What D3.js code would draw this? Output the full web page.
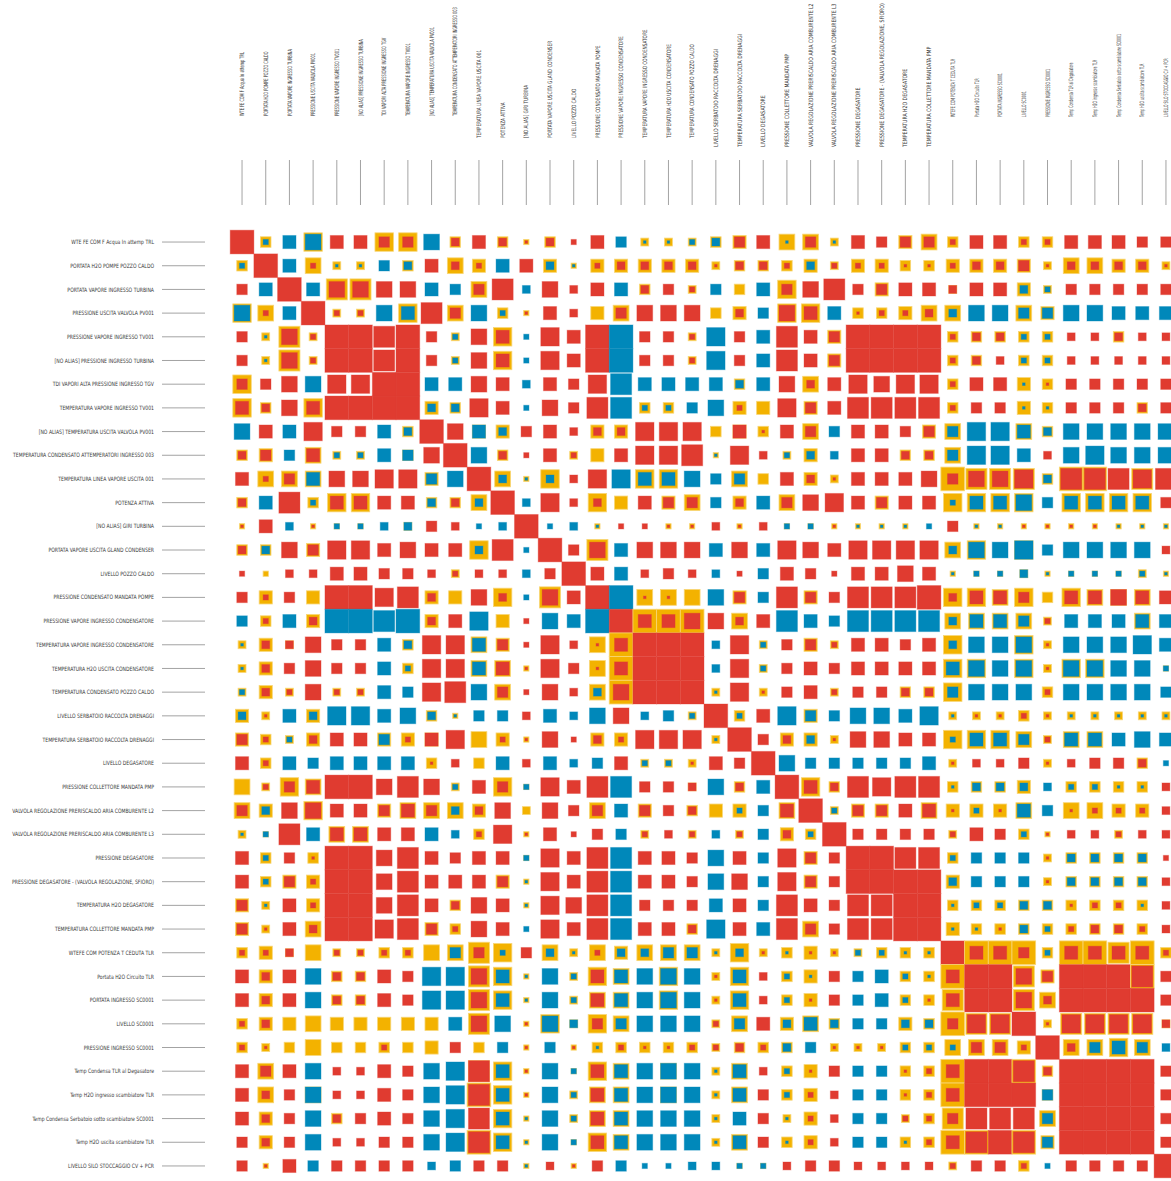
<!DOCTYPE html>
<html>
<head>
<meta charset="utf-8">
<script src="https://cdn.jsdelivr.net/npm/d3@7"></script>
<style>
html, body { margin: 0; padding: 0; background: #fff; overflow: hidden; }
text { font-family: "Liberation Sans Narrow", "DejaVu Sans Condensed", sans-serif; fill: #3a3a3a; }
</style>
</head>
<body>
<div id="chart"></div>
<script>
const width = 1171;
const height = 1181;

const labels = [
    "WTE FE COM F Acqua In attemp TRL",
    "PORTATA H2O POMPE POZZO CALDO",
    "PORTATA VAPORE INGRESSO TURBINA",
    "PRESSIONE USCITA VALVOLA PV001",
    "PRESSIONE VAPORE INGRESSO TV001",
    "[NO ALIAS] PRESSIONE INGRESSO TURBINA",
    "TDI VAPORI ALTA PRESSIONE INGRESSO TGV",
    "TEMPERATURA VAPORE INGRESSO TV001",
    "[NO ALIAS] TEMPERATURA USCITA VALVOLA PV001",
    "TEMPERATURA CONDENSATO ATTEMPERATORI INGRESSO 003",
    "TEMPERATURA LINEA VAPORE USCITA 001",
    "POTENZA ATTIVA",
    "[NO ALIAS] GIRI TURBINA",
    "PORTATA VAPORE USCITA GLAND CONDENSER",
    "LIVELLO POZZO CALDO",
    "PRESSIONE CONDENSATO MANDATA POMPE",
    "PRESSIONE VAPORE INGRESSO CONDENSATORE",
    "TEMPERATURA VAPORE INGRESSO CONDENSATORE",
    "TEMPERATURA H2O USCITA CONDENSATORE",
    "TEMPERATURA CONDENSATO POZZO CALDO",
    "LIVELLO SERBATOIO RACCOLTA DRENAGGI",
    "TEMPERATURA SERBATOIO RACCOLTA DRENAGGI",
    "LIVELLO DEGASATORE",
    "PRESSIONE COLLETTORE MANDATA PMP",
    "VALVOLA REGOLAZIONE PRERISCALDO ARIA COMBURENTE L2",
    "VALVOLA REGOLAZIONE PRERISCALDO ARIA COMBURENTE L3",
    "PRESSIONE DEGASATORE",
    "PRESSIONE DEGASATORE - (VALVOLA REGOLAZIONE, SFIORO)",
    "TEMPERATURA H2O DEGASATORE",
    "TEMPERATURA COLLETTORE MANDATA PMP",
    "WTEFE COM POTENZA T CEDUTA TLR",
    "Portata H2O Circuito TLR",
    "PORTATA INGRESSO SC0001",
    "LIVELLO SC0001",
    "PRESSIONE INGRESSO SC0001",
    "Temp Condensa TLR al Degasatore",
    "Temp H2O ingresso scambiatore TLR",
    "Temp Condensa Serbatoio sotto scambiatore SC0001",
    "Temp H2O uscita scambiatore TLR",
    "LIVELLO SILO STOCCAGGIO CV + PCR"
];

// one string per row, one token per column:
// sign (r = positive / red, b = negative / blue), inner size 0-9, yellow halo size 0-9 (0 = none)
const matrix = [
    "r90 b24 b50 b67 r50 r50 r47 r47 b60 r34 r50 r34 r12 r34 r20 r50 b40 b13 b13 b23 b34 r45 r50 b16 r46 b13 r50 r40 r45 r46 r24 r50 r50 r24 r24 r50 r50 r50 r40 r40",
    "b24 r90 b50 r26 b13 b13 b40 b34 r50 r36 r25 b50 r50 b35 b12 r25 r35 r35 r35 r35 r13 r34 r34 r24 b35 r23 r25 r25 r14 r14 r25 r35 r35 r45 r13 r36 r36 r35 r35 r13",
    "r40 b50 r90 b50 r68 r68 r60 r60 b50 b40 r46 r80 b30 r60 r30 r50 b50 r34 r40 r23 b40 r04 b50 r47 r60 r80 r40 r45 r50 r50 r33 r50 r50 b35 b23 r40 r40 r40 r40 r40",
    "b67 r26 b50 r90 r23 r23 b60 b57 r80 r46 b60 b24 r12 r50 r30 r05 r46 r60 r60 r60 r04 r35 b40 r67 r57 b50 r14 r24 r25 r36 b36 b60 b60 b46 b45 b60 b60 b50 b50 b50",
    "r40 b13 r68 r23 r90 r90 r80 r90 r40 b23 r60 r57 b20 r70 r50 r90 b90 r40 r40 r23 b70 r40 b50 r80 r50 r45 r90 r90 r90 r90 r24 r34 r34 b24 b24 r30 r30 r34 r30 r30",
    "r40 b13 r68 r23 r90 r90 r80 r90 r40 b23 r60 r57 b20 r70 r50 r90 b90 r40 r40 r23 b70 r40 b50 r80 r50 r45 r90 r90 r90 r90 r24 r34 r30 b24 b24 r30 r30 r30 r30 r30",
    "r47 r40 r60 b60 r70 r70 r90 r90 b50 b50 r60 r50 b30 r50 r40 r70 b80 b50 b50 b50 b50 b34 b50 r60 r36 r50 r70 r60 r70 r70 r24 r50 r50 b15 r14 r40 r40 r40 r40 r40",
    "r57 r34 r60 r57 r90 r90 r90 r90 b35 b34 r70 r50 b20 r60 r40 r80 b80 b24 b24 b40 b60 r25 r05 r70 r45 r50 r80 r80 r80 r80 r24 r40 r40 b15 b14 r40 r40 r40 r34 r40",
    "b60 r50 b50 r70 r40 r40 b50 b34 r90 r60 b55 b35 r40 r50 r30 r35 r35 r70 r70 r70 r04 r55 r14 r50 r46 b40 r50 r50 r40 r45 b46 b70 b70 b56 b34 b60 b60 b60 b60 b60",
    "r34 r45 b40 r56 b23 b23 b50 b44 r60 r90 b60 r34 r20 r50 r23 r05 r50 r70 r70 r80 b12 r70 r30 b23 b35 b30 r50 r50 r34 r34 b46 b70 b70 b50 r30 b60 b70 b60 b60 b60",
    "r50 r26 r46 b56 r60 r60 r70 r70 b45 b60 r90 b36 b12 b37 r30 r70 b70 b57 b57 b60 b40 b46 r04 r50 r35 r13 r50 r50 r50 r60 r49 r68 r68 r78 b34 r89 r89 r80 r78 r80",
    "r34 b50 r80 b24 r57 r57 r50 r50 b34 r34 b36 r90 b30 r70 r30 r37 r05 r50 r45 r46 b40 r35 b50 r46 r60 r70 r50 r45 r50 r50 b27 b57 b57 b67 b40 b57 b57 b57 b57 r40",
    "r12 r50 b30 r12 b22 b22 b30 b33 r40 r30 b20 b30 r90 b20 b30 b12 r20 r20 r12 r12 r30 r12 r30 b22 b22 r12 b12 b12 b12 b20 r40 b12 b12 r12 r12 r12 r12 b12 b12 b12",
    "r34 b34 r60 r45 r70 r70 r50 r60 r50 r50 b37 r80 b20 r90 r40 r68 b50 r60 r60 r60 b50 r60 b50 r70 r60 r50 r70 r70 r70 r70 b36 b67 b60 b77 b40 b60 b60 b60 b60 r30",
    "r20 r02 r30 r30 r50 r50 r40 r40 r30 r23 r30 r30 b30 r40 r90 r50 b50 r30 r40 r30 b30 r20 b40 r50 r40 r20 r50 r50 r60 r50 b12 b22 b22 b33 b12 b22 b22 b22 b23 b12",
    "r40 r25 r40 r05 r90 r90 r70 r80 r35 r05 r60 r37 b20 r68 r50 r90 b90 r16 r16 r06 b60 r45 b40 r80 r45 r40 r80 r80 r80 r90 r37 r57 r56 r47 r04 r57 r56 r66 r56 r50",
    "b40 r24 b50 r35 b90 b90 b80 b90 r35 r50 b70 r05 r20 b60 b50 b90 r90 r59 r59 r69 r60 r36 r50 b80 b50 b40 b80 b80 b80 b80 b36 b56 b56 b46 r23 b50 b50 b50 b56 b50",
    "b13 r35 r33 r60 r40 r40 b50 b34 r70 r70 b56 r45 r20 r70 r30 r16 r59 r90 r90 r90 b30 r70 b23 r40 r45 r23 r50 r50 r40 r50 b37 b60 b60 b67 r13 b60 b60 b60 b70 b50",
    "b13 r35 r40 r60 r40 r40 b50 b24 r70 r70 b56 r56 r12 r70 r40 r16 r59 r90 r90 r90 b30 r70 b23 r40 r50 r40 r50 r50 r50 r50 b57 b67 b60 b67 r13 b67 b67 b60 b60 b22",
    "b23 r35 r23 r60 r23 r23 b50 b40 r70 r80 b60 r46 r20 r60 r30 b36 r69 r90 r90 r90 b13 r70 r13 r40 r50 r23 r40 r40 r34 r34 b47 b60 b60 b60 r24 b60 b60 b60 b60 b40",
    "b35 r13 b50 b35 b70 b70 b50 b60 b34 b12 b40 b40 r30 b50 b30 b60 r60 b30 b40 b23 r90 b24 r50 b70 b45 b40 b60 b60 b50 b70 b13 r13 r13 r24 r13 b13 b13 b13 b13 b13",
    "r45 r24 b23 r35 r50 r50 b45 r25 r55 r70 r06 r25 r12 r60 r20 r35 r25 r70 r70 r70 b13 r90 r40 r35 b35 r13 r60 r60 r50 r50 b27 b57 b57 b46 r23 b56 b56 b50 b60 b50",
    "r50 r24 b50 b40 b50 b50 b50 b50 r14 r30 r04 b50 r30 b50 b30 b40 r50 b23 b23 r13 r50 r40 r90 b60 b40 b40 b40 b40 b40 b50 r13 r30 r30 r40 r13 r30 r40 r40 r34 b20",
    "r06 r23 r47 r56 r90 r90 r60 r80 r60 b23 r50 r47 b22 r70 r50 r80 b80 r40 r40 r33 b60 r34 b50 r90 r57 r34 r80 r70 r80 r80 b14 b34 b34 b35 b30 b24 b24 b14 b14 r30",
    "r46 b35 r60 r67 r50 r50 r45 r56 r46 b36 r35 r60 r03 r60 r40 r46 b50 r45 r40 r34 r05 b25 b40 r56 r90 b23 r45 r45 r50 r56 r15 b25 r15 b56 b40 r16 r26 r25 r25 r30",
    "b13 b22 r80 b50 r56 r56 r50 r50 b50 b30 r24 r70 r12 r50 r20 r40 b40 r23 r30 r23 b30 r23 b40 r35 b24 r90 r40 r40 r40 r40 r23 r50 r40 b24 r12 r30 r30 r23 r30 r30",
    "r50 b24 r40 r14 r90 r90 r60 r80 r50 r40 r50 r50 b22 r70 r50 r80 b80 r50 r50 r40 b60 r50 b40 r70 r45 r40 r90 r90 r80 r80 b24 b40 b40 b40 r13 b34 b34 b34 b34 r20",
    "r50 b24 r45 r25 r90 r90 r60 r80 r50 r50 r50 r45 b12 r70 r50 r80 b80 r50 r50 r40 b60 r60 b40 r70 r45 r40 r90 r90 r90 r90 b35 b40 b40 b40 r13 b34 b34 b34 b34 r30",
    "r45 b13 r50 r25 r90 r90 r60 r80 r50 r34 r60 r50 b12 r70 r60 r80 b80 r40 r40 r40 b50 r50 b40 r80 r50 r40 r80 r80 r90 r90 b14 b24 b24 b34 b34 r14 r24 r24 b14 r30",
    "r45 r13 r50 r36 r90 r90 r70 r80 r45 r24 r60 r50 b20 r70 r50 r80 b80 r50 r50 r34 b70 r50 b50 r80 r46 r40 r80 r80 r90 r90 b15 b14 r14 b34 b24 r24 r34 r34 r24 r30",
    "r24 r25 r33 r06 r23 r23 r24 r24 r06 b46 r48 b27 r40 b36 b13 r26 b35 b36 b46 b46 b13 b37 r13 b14 r15 r13 b23 b24 b14 b14 r90 r59 r59 r49 b24 r59 r59 r58 r59 r24",
    "r50 r35 r50 b60 r34 r34 r50 r40 b70 b70 r68 b57 b12 b60 b23 r57 b56 b60 b67 b60 r13 b57 r30 b24 b15 r40 b40 b50 b24 b14 r59 r90 r90 r68 r45 r90 r90 r90 r89 r40",
    "r50 r35 r50 b60 r34 r34 r50 r40 b70 b70 r68 b57 b12 b60 b23 r56 b56 b60 b67 b60 r13 b57 r30 b24 r15 r40 b40 b50 b24 r14 r58 r90 r90 r68 r36 r90 r90 r90 r90 r40",
    "r24 r35 r05 r06 r05 r05 r05 r05 r05 b50 r68 b60 r12 b67 b33 r47 b46 b60 b60 b60 r23 b46 r50 b35 b56 b34 b40 b40 b35 b34 r49 r78 r78 r90 r13 r78 r78 r78 r78 r33",
    "r24 r13 r04 r06 r04 r04 r24 r04 r05 r40 r04 b40 r12 b40 r12 b14 r24 r14 r14 r24 r23 r34 r24 b34 b40 r13 r13 r13 b24 b24 b26 r46 r46 r25 r90 r36 b46 b57 b46 b30",
    "r50 r46 r50 b60 r30 r30 r50 r40 b60 b70 r88 b57 r12 b60 b22 r57 b56 b60 b66 b60 b13 b56 r30 b24 r15 r40 b40 b40 r14 r24 r59 r90 r90 r89 r34 r90 r90 r90 r90 r40",
    "r50 r36 r40 b66 r30 r30 r50 r40 b60 b70 r89 b57 r12 b60 b23 r56 b56 b60 b66 b60 b13 b56 r40 b24 r25 r30 b40 b40 r14 r24 r59 r90 r90 r90 b44 r90 r90 r90 r90 r40",
    "r50 r35 r40 b60 r34 r40 r50 r40 b60 b70 r80 b57 b12 b60 b23 r56 b56 b60 b60 b60 b13 b50 r40 b13 r25 r30 b40 b40 r23 r24 r48 r80 r80 r80 b46 r90 r90 r90 r90 r40",
    "r40 r35 r40 b60 r30 r30 r40 r40 b60 b70 r89 b57 b12 b60 b22 r57 b56 b60 b60 b60 b13 b56 r40 b14 r25 r30 b40 b40 b14 r24 r59 r89 r90 r89 b45 r90 r90 r90 r90 r40",
    "r40 r12 r50 b40 r40 r40 r40 r40 b30 b40 r40 r40 b12 r30 r12 r40 b40 b20 b20 b30 b30 b22 b22 r30 r40 r40 r30 r30 r30 r30 r23 r40 r40 r24 b20 r40 r40 r40 r40 r90"
];

// rotated column labels, per block of ten columns: where the text starts (bottom) and its horizontal squeeze
const colLabelBottom = [116, 138, 147, 117];
const colLabelSqueeze = [0.655, 0.78, 0.86, 0.58];

const colors = { r: "#e03b30", b: "#0088ba", y: "#f3b200" };

const cell = 23.69;
const gridLeft = 230.2;
const gridTop = 230.2;
const n = labels.length;

const x = d3.scaleBand().domain(d3.range(n)).range([gridLeft, gridLeft + n * cell]);
const y = d3.scaleBand().domain(d3.range(n)).range([gridTop, gridTop + n * cell]);
const size = d3.scaleLinear().domain([0, 9]).range([0, cell]);

const cells = [];
matrix.forEach((row, i) => {
    row.trim().split(/\s+/).forEach((tok, j) => {
        cells.push({
            row: i,
            col: j,
            sign: tok[0],
            inner: +tok[1],
            halo: +tok[2]
        });
    });
});

const svg = d3.select("#chart").append("svg")
    .attr("width", width)
    .attr("height", height);

// row labels + leader lines
const rowG = svg.append("g").attr("class", "row-labels");
rowG.selectAll("text")
    .data(labels)
    .enter().append("text")
    .attr("transform", (d, i) => `translate(154,${y(i) + cell / 2}) scale(0.85,1)`)
    .attr("text-anchor", "end")
    .attr("dy", "0.35em")
    .style("font-size", "6px")
    .text(d => d);
rowG.selectAll("line")
    .data(labels)
    .enter().append("line")
    .attr("x1", 162)
    .attr("x2", 205)
    .attr("y1", (d, i) => y(i) + cell / 2)
    .attr("y2", (d, i) => y(i) + cell / 2)
    .attr("stroke", "#8c8c8c")
    .attr("stroke-width", 0.8);

// column labels + leader lines
const colG = svg.append("g").attr("class", "col-labels");
colG.selectAll("text")
    .data(labels)
    .enter().append("text")
    .attr("transform", (d, i) => {
        const b = Math.floor(i / 10);
        return `translate(${x(i) + cell / 2},${colLabelBottom[b]}) rotate(-90) scale(${colLabelSqueeze[b]},1)`;
    })
    .attr("text-anchor", "start")
    .attr("dy", "0.35em")
    .style("font-size", "6px")
    .text(d => d);
colG.selectAll("line")
    .data(labels)
    .enter().append("line")
    .attr("x1", (d, i) => x(i) + cell / 2)
    .attr("x2", (d, i) => x(i) + cell / 2)
    .attr("y1", 160)
    .attr("y2", 205)
    .attr("stroke", "#8c8c8c")
    .attr("stroke-width", 0.8);

// matrix cells: yellow halo underneath, signed square on top
const cellG = svg.append("g").attr("class", "cells")
    .selectAll("g")
    .data(cells)
    .enter().append("g")
    .attr("transform", d => `translate(${x(d.col) + cell / 2},${y(d.row) + cell / 2})`);

cellG.filter(d => d.halo > 0).append("rect")
    .attr("x", d => -size(d.halo) / 2)
    .attr("y", d => -size(d.halo) / 2)
    .attr("width", d => size(d.halo))
    .attr("height", d => size(d.halo))
    .attr("fill", colors.y)
    .attr("stroke", "#f8d675")
    .attr("stroke-width", 0.8);

cellG.filter(d => d.inner > 0).append("rect")
    .attr("x", d => -size(d.inner) / 2)
    .attr("y", d => -size(d.inner) / 2)
    .attr("width", d => size(d.inner))
    .attr("height", d => size(d.inner))
    .attr("fill", d => colors[d.sign])
    .attr("stroke", d => colors[d.sign])
    .attr("stroke-opacity", 0.35)
    .attr("stroke-width", 1);
</script>
</body>
</html>
